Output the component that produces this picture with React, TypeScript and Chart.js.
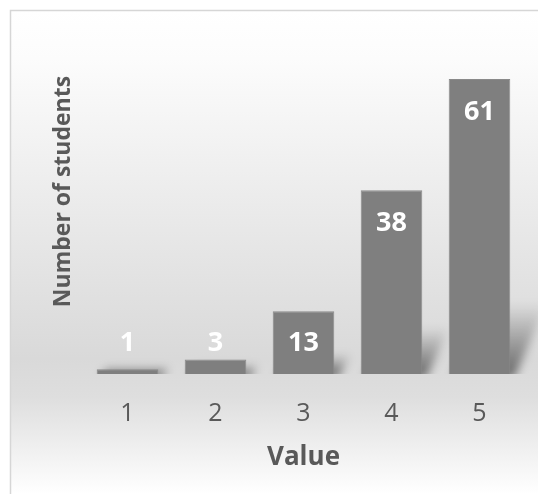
import React, { useEffect, useRef } from "react";
import { Chart, registerables } from "chart.js";

Chart.register(...registerables);

const categories = ["1", "2", "3", "4", "5"];
const students = [1, 3, 13, 38, 61];
const yAxisTitle = "Number of students";
const xAxisTitle = "Value";

const FONT = "'Open Sans', 'DejaVu Sans', sans-serif";
const TEXT = "#595959";
const BAR = "#7f7f7f";

const backgroundPlugin = {
  id: "bgBox",
  beforeDraw(chart: any) {
    const { ctx, width, height } = chart;
    ctx.save();
    const g = ctx.createLinearGradient(0, 10, 0, height);
    g.addColorStop(0, "#ffffff");
    g.addColorStop(0.1, "#fcfcfc");
    g.addColorStop(0.72, "#d9d9d9");
    g.addColorStop(0.8, "#dedede");
    g.addColorStop(1, "#ffffff");
    ctx.fillStyle = g;
    ctx.fillRect(10, 10, width - 10, height - 10);
    ctx.strokeStyle = "#d6d6d6";
    ctx.lineWidth = 1.5;
    ctx.beginPath();
    ctx.moveTo(10.5, height);
    ctx.lineTo(10.5, 10.5);
    ctx.lineTo(width, 10.5);
    ctx.stroke();
    ctx.restore();
  },
};

const shadowPlugin = {
  id: "barShadow",
  beforeDatasetsDraw(chart: any) {
    const { ctx } = chart;
    const meta = chart.getDatasetMeta(0);
    const base = chart.scales.y.getPixelForValue(0);
    meta.data.forEach((bar: any) => {
      const { x, y, width } = bar.getProps(["x", "y", "width"], true);
      const h = base - y;
      const sh = h * 0.22 + 6;
      const dx = sh * 0.4 + 8;
      const x0 = x - width / 2;
      const x1 = x + width / 2;
      ctx.save();
      ctx.beginPath();
      ctx.rect(0, 0, chart.width, base);
      ctx.clip();
      ctx.filter = "blur(5px)";
      const g = ctx.createLinearGradient(0, base, 0, base - sh);
      g.addColorStop(0, "rgba(0,0,0,0.5)");
      g.addColorStop(1, "rgba(0,0,0,0)");
      ctx.fillStyle = g;
      ctx.beginPath();
      ctx.moveTo(x0 + 4, base + 4);
      ctx.lineTo(x1 + 4, base + 4);
      ctx.lineTo(x1 + dx, base - sh);
      ctx.lineTo(x0 + dx, base - sh);
      ctx.closePath();
      ctx.fill();
      ctx.restore();
    });
  },
};

const labelPlugin = {
  id: "barLabels",
  afterDatasetsDraw(chart: any) {
    const { ctx } = chart;
    const meta = chart.getDatasetMeta(0);
    const base = chart.scales.y.getPixelForValue(0);
    ctx.save();
    ctx.font = `bold 27px ${FONT}`;
    ctx.fillStyle = "#ffffff";
    ctx.textAlign = "center";
    ctx.textBaseline = "middle";
    meta.data.forEach((bar: any, i: number) => {
      const { x, y } = bar.getProps(["x", "y"], true);
      const ly = Math.min(y + 33, base - 31);
      ctx.fillText(String(students[i]), x, ly);
    });
    ctx.restore();
  },
};

const yTitlePlugin = {
  id: "yTitle",
  afterDraw(chart: any) {
    const { ctx } = chart;
    ctx.save();
    ctx.translate(63, 191.5);
    ctx.rotate(-Math.PI / 2);
    ctx.font = `bold 23px ${FONT}`;
    ctx.fillStyle = TEXT;
    ctx.textAlign = "center";
    ctx.textBaseline = "middle";
    ctx.fillText(yAxisTitle, 0, 0);
    ctx.restore();
  },
};

export default function App() {
  const ref = useRef<HTMLCanvasElement | null>(null);
  useEffect(() => {
    document.body.style.margin = "0";
    const canvas = ref.current;
    if (!canvas) return;
    const chart = new Chart(canvas, {
      type: "bar",
      data: {
        labels: categories,
        datasets: [
          {
            data: students,
            backgroundColor: BAR,
            borderColor: "#8a8a8a",
            borderWidth: 1,
            categoryPercentage: 1,
            barPercentage: 0.7,
          },
        ],
      },
      options: {
        responsive: false,
        animation: false,
        devicePixelRatio: 1,
        layout: { padding: { left: 83.5, right: 14.5, top: 79, bottom: 0 } },
        plugins: {
          legend: { display: false },
          tooltip: { enabled: false },
          title: { display: false },
        },
        scales: {
          x: {
            afterFit(scale: any) {
              scale.height = 120;
            },
            grid: { display: false, drawTicks: false },
            border: { display: false },
            ticks: {
              color: TEXT,
              padding: 24.5,
              font: { family: FONT, size: 25 },
            },
            title: {
              display: true,
              text: xAxisTitle,
              color: TEXT,
              font: { family: FONT, size: 26, weight: "bold" },
              padding: { top: 10, bottom: 21 },
            },
          },
          y: { display: false, min: 0, max: 61 },
        },
      },
      plugins: [backgroundPlugin, shadowPlugin, labelPlugin, yTitlePlugin],
    });
    return () => chart.destroy();
  }, []);
  return (
    <div style={{ position: "fixed", left: 0, top: 0, width: 538, height: 494 }}>
      <canvas ref={ref} width={538} height={494} style={{ display: "block" }} />
    </div>
  );
}
